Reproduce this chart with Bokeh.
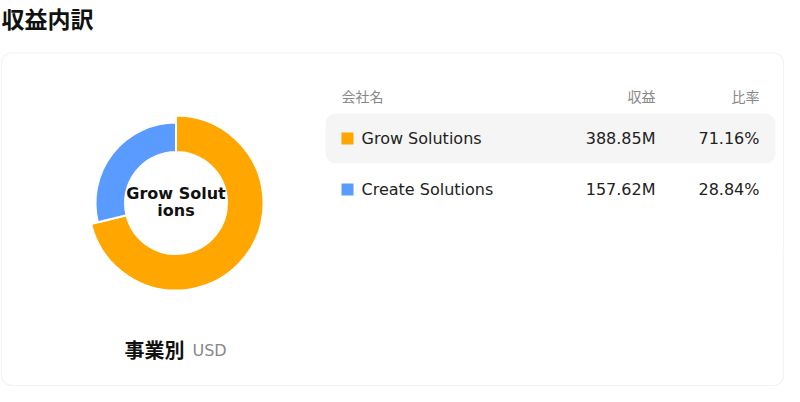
from bokeh.plotting import figure
from bokeh.models import Range1d, BoxAnnotation
from bokeh.core.properties import value
from bokeh.embed import file_html
from bokeh.resources import INLINE
import math

# ---- data ----
companies = ["Grow Solutions", "Create Solutions"]
revenues = [388.85, 157.62]          # millions USD
revenue_labels = ["388.85M", "157.62M"]
share_labels = ["71.16%", "28.84%"]
colors = ["#FFA600", "#5A9BFF"]
outer_r = [87.5, 80.5]               # highlighted slice drawn larger
title = "収益内訳"
center_lines = ["Grow Solut", "ions"]
header = ["会社名", "収益", "比率"]
subtitle = "事業別"
unit = "USD"

W, H = 784, 386
def Y(py):  # picture y (top-down) -> data y
    return H - py

p = figure(width=W, height=H, output_backend="svg", toolbar_location=None,
           x_range=Range1d(0, W), y_range=Range1d(0, H),
           x_axis_location=None, y_axis_location=None, min_border=0)
p.grid.visible = False
p.outline_line_color = None
p.background_fill_color = "white"

CJK = value("Noto Sans CJK JP")
LAT = value("DejaVu Sans")

# card
p.add_layout(BoxAnnotation(left=1, right=W - 1, top=Y(52.5), bottom=Y(H - 1),
                           fill_color="white", fill_alpha=1, line_color="#d8d8e4",
                           line_width=1.2, border_radius=10, level="underlay"))
# highlighted row
p.add_layout(BoxAnnotation(left=325, right=775, top=Y(113), bottom=Y(163),
                           fill_color="#f5f5f5", fill_alpha=1, line_color=None,
                           border_radius=10, level="underlay"))

# title
p.text(x=[1], y=[Y(17)], text=[title], text_font=CJK, text_font_size="23px",
       text_font_style="bold", text_baseline="middle", text_color="#111111")

# donut
total = sum(revenues)
cx, cy = 175.5, Y(202.5)
start = 90.0
for i, v in enumerate(revenues):
    sweep = v / total * 360.0
    end = start - sweep
    p.annular_wedge(x=cx, y=cy, inner_radius=51, outer_radius=outer_r[i],
                    inner_radius_units="screen", outer_radius_units="screen",
                    start_angle=math.radians(end), end_angle=math.radians(start),
                    fill_color=colors[i], line_color="white", line_width=2)
    start = end

p.text(x=[cx, cx], y=[Y(193), Y(210)], text=center_lines, text_font=LAT,
       text_font_size="16px", text_font_style="bold", text_align="center",
       text_baseline="middle", text_color="#111111")

# subtitle under donut
p.text(x=[124], y=[Y(349)], text=[subtitle], text_font=CJK, text_font_size="20px",
       text_font_style="bold", text_baseline="middle", text_color="#111111")
p.text(x=[192], y=[Y(350)], text=[unit], text_font=LAT, text_font_size="16px",
       text_baseline="middle", text_color="#888888")

# table header
p.text(x=[341], y=[Y(95)], text=[header[0]], text_font=CJK, text_font_size="14px",
       text_baseline="middle", text_color="#888888")
p.text(x=[655, 759], y=[Y(95), Y(95)], text=header[1:], text_font=CJK,
       text_font_size="14px", text_align="right", text_baseline="middle",
       text_color="#888888")

# rows
row_y = [Y(138), Y(189)]
p.rect(x=[347, 347], y=row_y, width=12, height=12, width_units="screen",
       height_units="screen", fill_color=colors, line_color=None)
p.text(x=[361, 361], y=row_y, text=companies, text_font=LAT, text_font_size="16px",
       text_baseline="middle", text_color="#222222")
p.text(x=[655, 655], y=row_y, text=revenue_labels, text_font=LAT, text_font_size="16px",
       text_align="right", text_baseline="middle", text_color="#222222")
p.text(x=[759, 759], y=row_y, text=share_labels, text_font=LAT, text_font_size="16px",
       text_align="right", text_baseline="middle", text_color="#222222")

open("out.html", "w").write(file_html(p, INLINE))
